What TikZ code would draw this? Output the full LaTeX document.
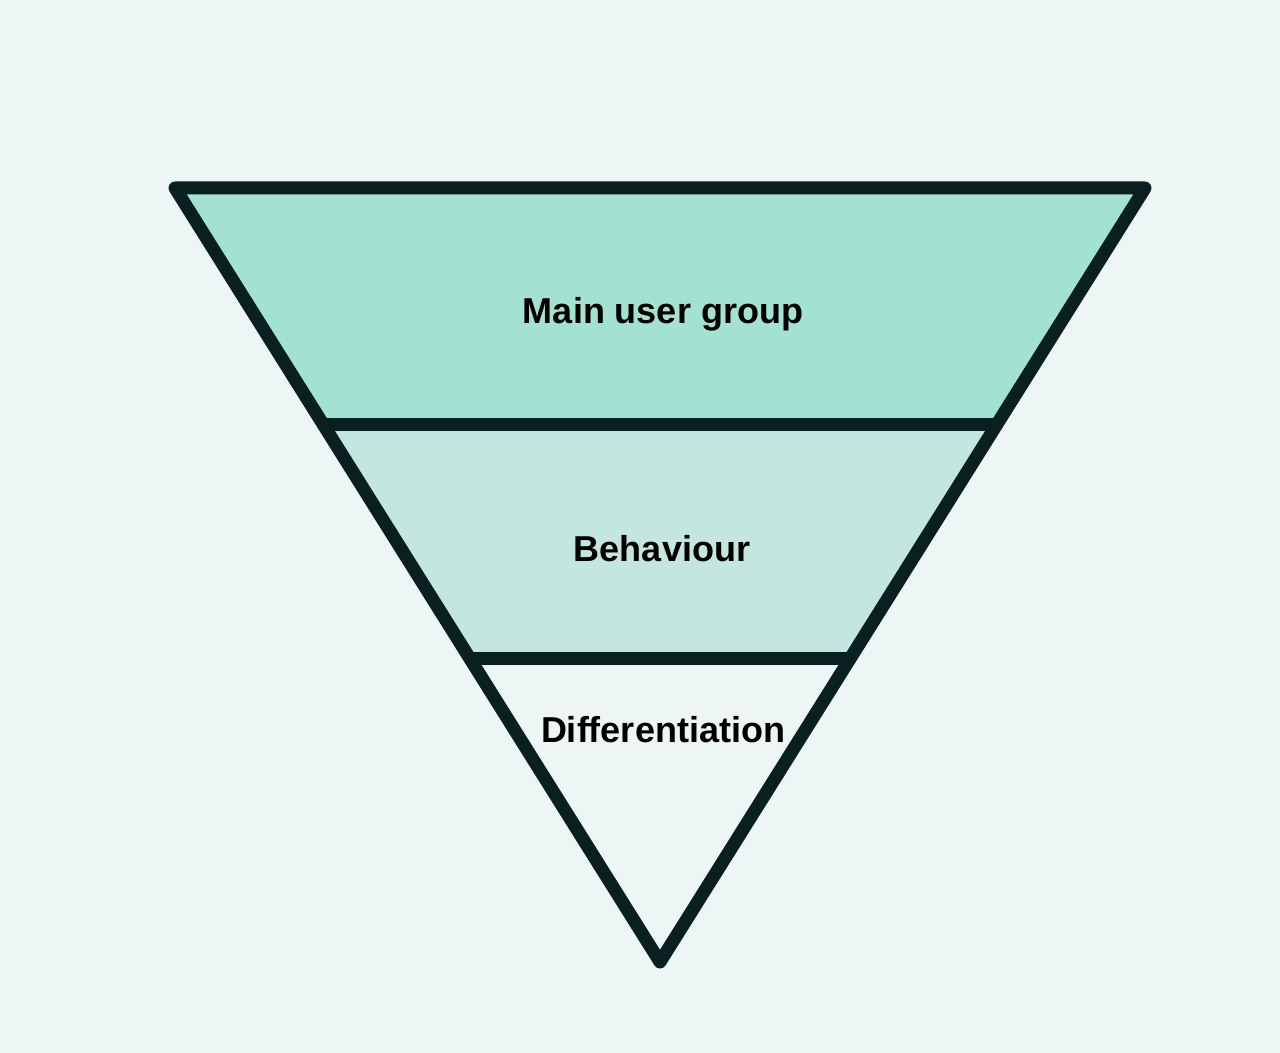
\documentclass[tikz,border=0pt]{standalone}
\usepackage{fontspec}
\setmainfont{Liberation Sans}
\usetikzlibrary{calc}
\definecolor{bgpale}{HTML}{EEF6F5}
\definecolor{bandtop}{HTML}{A3E2D1}
\definecolor{bandmid}{HTML}{C3E6DE}
\definecolor{bandlow}{HTML}{EDF5F5}
\definecolor{inkdark}{HTML}{0A1F1F}
\tikzset{
  funnelline/.style={line width=6.5pt,draw=inkdark,line join=round,line cap=round},
  bandlabel/.style={font=\fontsize{18}{20}\selectfont\bfseries,text=black}
}
\begin{document}
\begin{tikzpicture}[x=0.5pt,y=-0.5pt]
\fill[bgpale] (0,0) rectangle (1280,1053);
\useasboundingbox (0,0) rectangle (1280,1053);
\coordinate (tl) at (175,188);
\coordinate (tr) at (1145,188);
\coordinate (apex) at (660,962);
\coordinate (ml) at ($(tl)!0.306!(apex)$);
\coordinate (mr) at ($(tr)!0.306!(apex)$);
\coordinate (ll) at ($(tl)!0.6085!(apex)$);
\coordinate (lr) at ($(tr)!0.6085!(apex)$);
\fill[bandtop] (tl) -- (tr) -- (mr) -- (ml) -- cycle;
\fill[bandmid] (ml) -- (mr) -- (lr) -- (ll) -- cycle;
\fill[bandlow] (ll) -- (lr) -- (apex) -- cycle;
\draw[funnelline] (ml) -- (mr);
\draw[funnelline] (ll) -- (lr);
\draw[funnelline] (tl) -- (tr) -- (apex) -- cycle;
\node[bandlabel] (group) at (663,314) {Main user group};
\node[bandlabel] (behav) at (662,549) {Behaviour};
\node[bandlabel] (diff) at (663,730) {Differentiation};
\end{tikzpicture}
\end{document}
